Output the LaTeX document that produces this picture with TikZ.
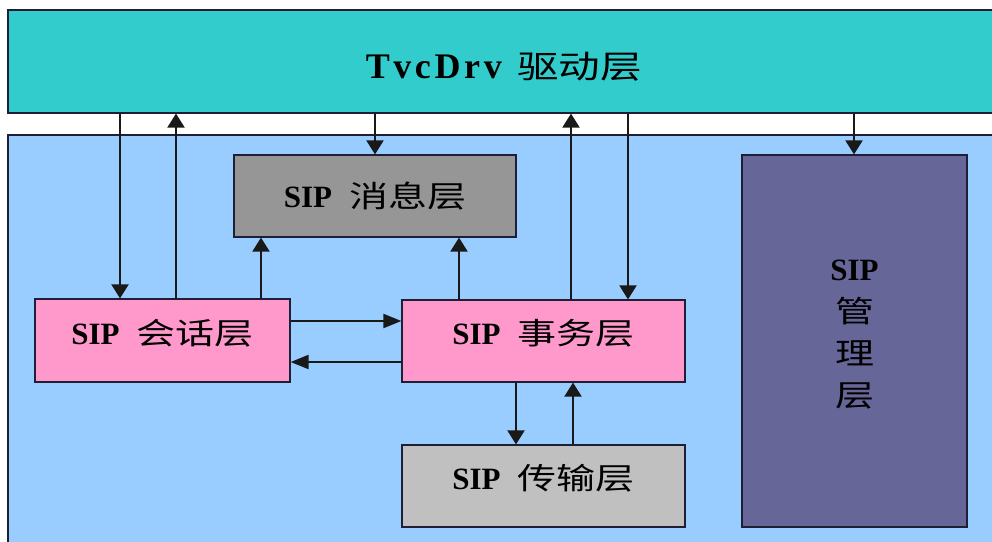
\documentclass[tikz,border=0pt]{standalone}
\usepackage{fontspec}
\setmainfont{Liberation Serif}
\newfontfamily\cjk{Noto Sans CJK SC}[FakeStretch=1.3]
\usetikzlibrary{arrows.meta}

\definecolor{drvteal}{HTML}{33CCCC}
\definecolor{areablue}{HTML}{99CCFF}
\definecolor{msggray}{HTML}{969696}
\definecolor{sippink}{HTML}{FF99CC}
\definecolor{tportgray}{HTML}{C0C0C0}
\definecolor{mgmtpurple}{HTML}{666699}
\definecolor{edge}{HTML}{1E1E34}

% box label: bold Latin part, then the CJK part
\newcommand\boxlabel[2]{\fontsize{31}{34}\selectfont\textbf{#1}\hspace{17pt}{\fontsize{30}{34}\selectfont\cjk #2}}
% extra depth below a line, to lift the text inside its box
\newcommand\lift[1]{\rule[-#1]{0pt}{#1}}

\begin{document}
\begin{tikzpicture}[x=1pt,y=-1pt,
  layer/.style={draw=edge, line width=1.2pt, inner sep=0pt, text=black},
  flow/.style={draw=black!90, line width=2pt},
  vtip/.style={flow, -{Triangle[width=17pt,length=14pt]}},
  htip/.style={flow, -{Triangle[width=14pt,length=18pt]}}]

\clip (0,0) rectangle (992,541);
\fill[white] (0,0) rectangle (992,541);

% large blue area holding the SIP layers
\node[layer, fill=areablue, minimum width=992pt, minimum height=425pt] (area) at (504,347.5) {};

% driver layer across the top
\node[layer, fill=drvteal, minimum width=992pt, minimum height=103pt] (drv) at (504,61.5)
  {\rule{0pt}{36pt}\fontsize{36}{40}\selectfont\addfontfeature{LetterSpace=10}\textbf{TvcDrv}\hspace{12pt}{\fontsize{32}{40}\selectfont\cjk 驱动层}};

% SIP layers
\node[layer, fill=msggray, minimum width=282pt, minimum height=82pt] (msg) at (375,196)
  {\boxlabel{SIP}{消息层}};
\node[layer, fill=sippink, minimum width=255pt, minimum height=83pt] (sess) at (162.5,340.5)
  {\boxlabel{SIP}{会话层}\lift{18pt}};
\node[layer, fill=sippink, minimum width=283pt, minimum height=82pt] (trans) at (543.5,341)
  {\boxlabel{SIP}{事务层}\lift{18pt}};
\node[layer, fill=tportgray, minimum width=283pt, minimum height=82pt] (tport) at (543.5,486)
  {\boxlabel{SIP}{传输层}\lift{18pt}};
\node[layer, fill=mgmtpurple, minimum width=225pt, minimum height=372pt, align=center,
      font=\fontsize{31}{42}\selectfont] (mgmt) at (854.5,341)
  {\textbf{SIP}\\{\cjk\fontsize{30}{42}\selectfont 管}\\{\cjk\fontsize{30}{42}\selectfont 理}\\{\cjk\fontsize{30}{42}\selectfont 层}\lift{16pt}};

% connector columns and rows
\coordinate (c1) at (120,0);
\coordinate (c2) at (176,0);
\coordinate (c3) at (261,0);
\coordinate (c4) at (375,0);
\coordinate (c5) at (459,0);
\coordinate (c6) at (571,0);
\coordinate (c7) at (628,0);
\coordinate (c8) at (854,0);
\coordinate (c9) at (516,0);
\coordinate (c10) at (573,0);
\coordinate (r1) at (0,321);
\coordinate (r2) at (0,362);

% driver <-> session
\draw[vtip] (drv.south -| c1) -- (sess.north -| c1);
\draw[vtip] (sess.north -| c2) -- (drv.south -| c2);
% towards the message layer
\draw[vtip] (sess.north -| c3) -- (msg.south -| c3);
\draw[vtip] (drv.south -| c4) -- (msg.north -| c4);
\draw[vtip] (trans.north -| c5) -- (msg.south -| c5);
% driver <-> transaction
\draw[vtip] (trans.north -| c6) -- (drv.south -| c6);
\draw[vtip] (drv.south -| c7) -- (trans.north -| c7);
% driver -> management
\draw[vtip] (drv.south -| c8) -- (mgmt.north -| c8);
% session <-> transaction
\draw[htip] (sess.east |- r1) -- (trans.west |- r1);
\draw[htip] (trans.west |- r2) -- (sess.east |- r2);
% transaction <-> transport
\draw[vtip] (trans.south -| c9) -- (tport.north -| c9);
\draw[vtip] (tport.north -| c10) -- (trans.south -| c10);
\end{tikzpicture}
\end{document}
